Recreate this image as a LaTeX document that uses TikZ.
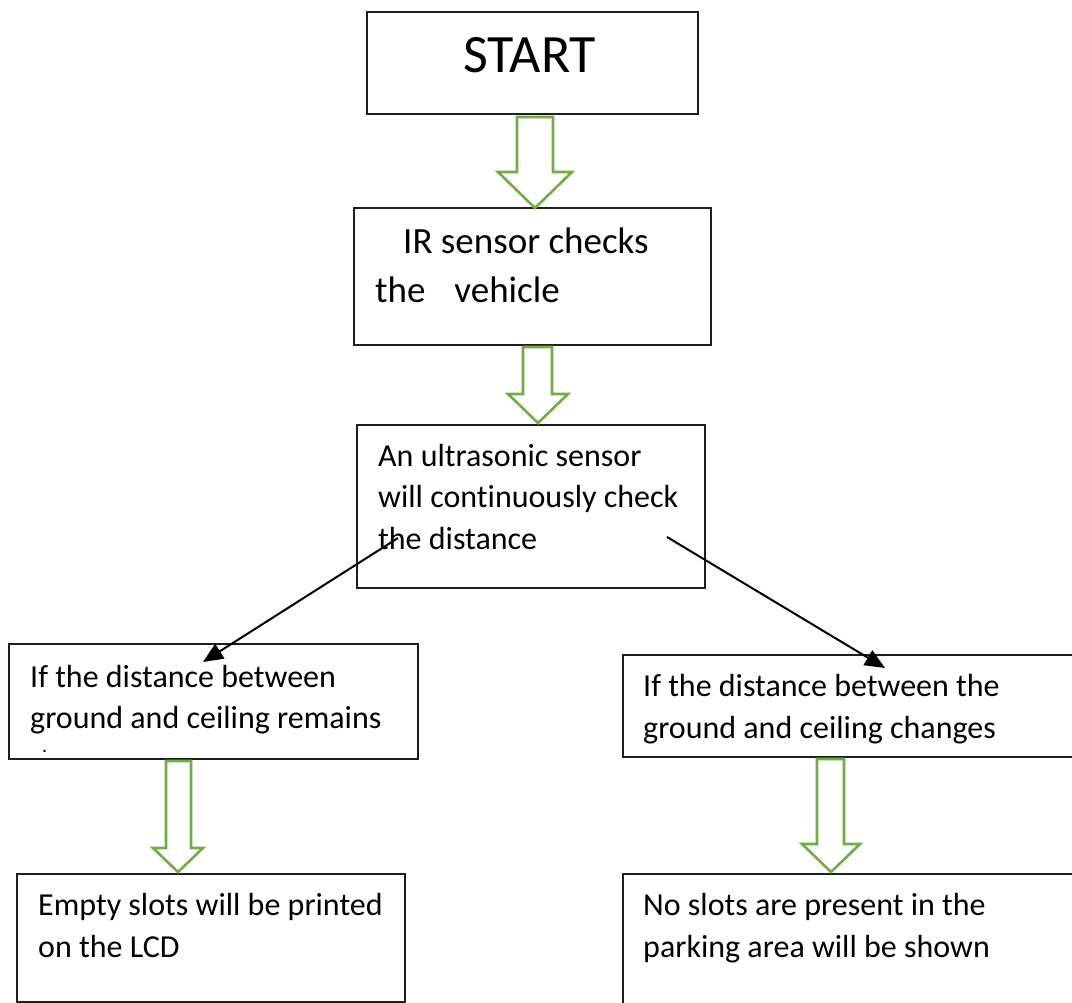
\documentclass[tikz,border=0pt]{standalone}
\usepackage{fontspec}
\setmainfont[Ligatures=NoCommon]{Carlito}
\usetikzlibrary{arrows.meta}
\definecolor{ogreen}{RGB}{112,173,71}
\definecolor{boxline}{RGB}{30,30,30}
\tikzset{
  box/.style={draw=boxline, line width=1.3pt, rectangle, inner sep=0pt, outer sep=0pt},
  txt/.style={anchor=base west, inner sep=0pt, font=\fontsize{32}{41}\selectfont},
  hollow/.style={draw=ogreen, line width=2.6pt, line join=miter, fill=white},
  flow/.style={line width=2pt, -{Triangle[length=20pt,width=17pt]}},
}
\begin{document}
\begin{tikzpicture}[x=1pt,y=-1pt]
\useasboundingbox (0,0) rectangle (1072,1003);
\clip (0,0) rectangle (1072,1003);
\fill[white] (0,0) rectangle (1072,1003);
% boxes
\node[box, minimum width=331pt, minimum height=102pt] (start) at (532.5,63) {};
\node[box, minimum width=357pt, minimum height=137pt] (ir) at (532.5,276.5) {};
\node[box, minimum width=348pt, minimum height=163pt] (us) at (531,506.5) {};
\node[box, minimum width=409pt, minimum height=115pt] (left) at (213.5,701.5) {};
\node[box, minimum width=462pt, minimum height=102pt] (right) at (854,706) {};
\node[box, minimum width=388pt, minimum height=128pt] (bl) at (211,938) {};
\node[box, minimum width=462pt, minimum height=141pt] (br) at (854,944.5) {};
% texts
\node[txt, font=\fontsize{54}{60}\selectfont] (tstart) at (463,73) {START};
\node[txt, font=\fontsize{37}{49}\selectfont] (tir1) at (403,254) {IR sensor checks};
\node[txt, font=\fontsize{37}{49}\selectfont] (tir2) at (375,303) {the\hspace{29pt}vehicle};
\node[txt] (tus1) at (378,466) {An ultrasonic sensor};
\node[txt] (tus2) at (378,507) {will continuously check};
\node[txt] (tus3) at (378,549) {the distance};
\node[txt] (tl1) at (30,687) {If the distance between};
\node[txt] (tl2) at (30,728) {ground and ceiling remains};
\node[txt, font=\fontsize{20}{24}\selectfont] (tl3) at (42,752) {.};
\node[txt] (tr1) at (643,696) {If the distance between the};
\node[txt] (tr2) at (643,738) {ground and ceiling changes};
\node[txt] (tbl1) at (38,915) {Empty slots will be printed};
\node[txt] (tbl2) at (38,957) {on the LCD};
\node[txt] (tbr1) at (643,915) {No slots are present in the};
\node[txt] (tbr2) at (643,957) {parking area will be shown};
% hollow green arrows
\draw[hollow] (517,117) -- (553,117) -- (553,172) -- (572,172) -- (535,208) -- (498,172) -- (517,172) -- cycle;
\draw[hollow] (523,347) -- (552,347) -- (552,394) -- (568,394) -- (538,423) -- (508,394) -- (523,394) -- cycle;
\draw[hollow] (166,761) -- (191,761) -- (191,848) -- (203,848) -- (178,872) -- (153,848) -- (166,848) -- cycle;
\draw[hollow] (817,759) -- (844,759) -- (844,844) -- (860,844) -- (831,872) -- (802,844) -- (817,844) -- cycle;
% black arrows
\coordinate (a1s) at (398,538);
\coordinate (a1e) at (203,662);
\coordinate (a2s) at (667,537);
\coordinate (a2e) at (885,668);
\draw[flow] (a1s) -- (a1e);
\draw[flow] (a2s) -- (a2e);
\end{tikzpicture}
\end{document}
